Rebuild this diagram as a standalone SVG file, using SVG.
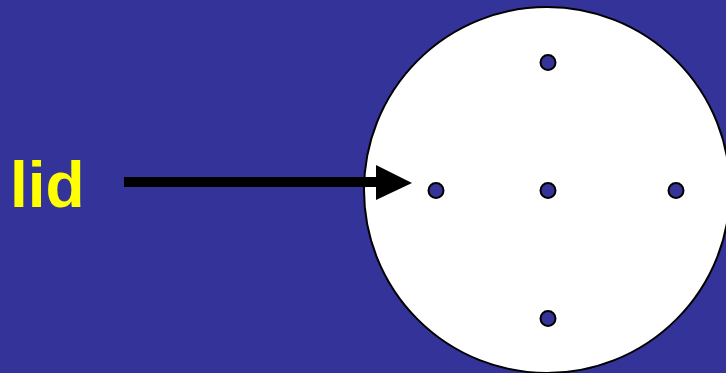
<svg xmlns="http://www.w3.org/2000/svg" width="726" height="373" viewBox="0 0 726 373">
<style>
.dot{fill:#333399;stroke:#000;stroke-width:2}
.lbl{font-family:"Liberation Sans",Arial,sans-serif;font-weight:bold;font-size:64px;fill:#ffff00}
</style>
<rect width="726" height="373" fill="#333399"/>
<g id="lid-circle">
<circle cx="547" cy="190" r="183" fill="#fff" stroke="#000" stroke-width="2"/>
</g>
<g id="dot-top"><circle class="dot" cx="548" cy="62.5" r="7.5"/></g>
<g id="dot-left"><circle class="dot" cx="436" cy="190.5" r="7.5"/></g>
<g id="dot-center"><circle class="dot" cx="548" cy="190.5" r="7.5"/></g>
<g id="dot-right"><circle class="dot" cx="676" cy="190.5" r="7.5"/></g>
<g id="dot-bottom"><circle class="dot" cx="548" cy="318.5" r="7.5"/></g>
<g id="label"><text class="lbl" x="10" y="207">lid</text></g>
<g id="connectors">
<rect x="124" y="177" width="254" height="10" fill="#000"/>
<polygon points="376,165 412,183 376,200" fill="#000"/>
</g>
</svg>
